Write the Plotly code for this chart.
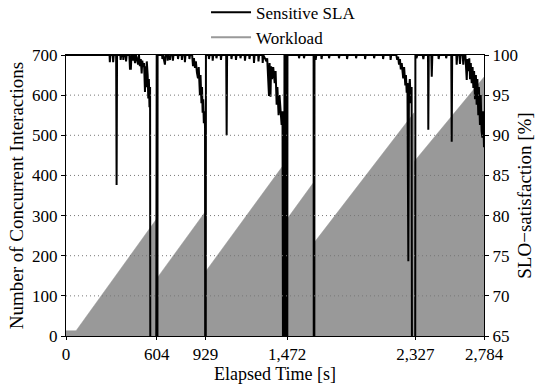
import plotly.graph_objects as go

# ---- data ----
x_ticks = [0, 604, 929, 1472, 2327, 2784]
x_tick_labels = ["0", "604", "929", "1,472", "2,327", "2,784"]
left_ticks = [0, 100, 200, 300, 400, 500, 600, 700]
right_ticks = [65, 70, 75, 80, 85, 90, 95, 100]

# workload (concurrent interactions) vertices
work_t = [0, 67, 600, 600, 929, 929, 1460, 1460, 1652, 1652, 2318, 2318, 2784]
work_v = [13, 13, 290, 141, 310, 160, 432, 285, 384, 232, 556, 434, 645]

# SLO satisfaction (%) of the sensitive SLA
sla_t = [0, 290, 292, 296, 312, 314, 318, 334, 337, 340, 362, 364, 368, 380, 382, 386,
         398, 400, 404, 422, 426, 432, 436, 440, 446, 452, 460, 466, 474, 480, 486, 492,
         498, 504, 508, 514, 520, 526, 530, 534, 538, 544, 548, 552, 556, 560, 564, 568,
         572, 576, 580, 584, 588, 592, 596, 599, 604, 607, 610, 640, 642, 646, 659, 663,
         675, 677, 681, 693, 697, 710, 712, 716, 744, 746, 750, 770, 772, 776, 790, 792,
         796, 820, 822, 826, 840, 846, 852, 859, 865, 872, 879, 884, 892, 896, 902, 906,
         910, 914, 918, 922, 926, 929, 932, 950, 952, 956, 975, 977, 981, 1000, 1002, 1006,
         1030, 1032, 1036, 1067, 1070, 1073, 1100, 1102, 1106, 1130, 1132, 1136, 1160, 1162,
         1166, 1190, 1192, 1196, 1220, 1222, 1226, 1250, 1252, 1256, 1280, 1282, 1286, 1308,
         1310, 1314, 1335, 1340, 1352, 1356, 1362, 1366, 1372, 1380, 1390, 1396, 1403, 1408,
         1416, 1422, 1430, 1436, 1442, 1449, 1452, 1455, 1466, 1469, 1472, 1475, 1550, 1552,
         1556, 1583, 1585, 1589, 1649, 1652, 1655, 1661, 1663, 1667, 1700, 1702, 1706, 1750,
         1752, 1756, 1816, 1818, 1822, 1870, 1872, 1876, 1930, 1932, 1936, 1990, 1992, 1996,
         2050, 2052, 2056, 2110, 2112, 2116, 2160, 2162, 2166, 2200, 2206, 2212, 2218, 2224,
         2230, 2236, 2246, 2252, 2260, 2264, 2269, 2274, 2280, 2284, 2290, 2296, 2302, 2308,
         2312, 2316, 2320, 2324, 2327, 2334, 2340, 2376, 2380, 2384, 2411, 2413, 2416, 2433,
         2436, 2440, 2480, 2482, 2486, 2530, 2532, 2536, 2566, 2569, 2572, 2600, 2602, 2606,
         2620, 2624, 2628, 2642, 2646, 2650, 2660, 2669, 2674, 2680, 2686, 2691, 2696, 2702,
         2708, 2713, 2718, 2724, 2730, 2735, 2740, 2746, 2750, 2757, 2762, 2768, 2773, 2778,
         2784]
sla_v = [100, 100, 99.1, 100, 100, 99.1, 100, 100, 83.8, 100, 100, 99.4, 100, 100, 99.4, 100,
         100, 99.2, 100, 100, 98.3, 98.3, 100, 100, 99.3, 100, 99.0, 100, 99.4, 98.8, 100, 98.6,
         99.5, 97.7, 99.3, 98.5, 99.0, 95.4, 98.6, 96.0, 99.2, 97.5, 94.6, 97.0, 93.5, 96.0, 0, 40,
         0, 30, 0, 50, 0, 20, 0, 100, 100, 0, 100, 100, 99.5, 100, 98.8, 100,
         100, 99.3, 100, 99.4, 100, 100, 99.3, 100, 100, 99.5, 100, 100, 99.4, 100, 100, 99.1,
         100, 100, 99.5, 100, 100, 98.6, 99.6, 98.4, 99.2, 97.8, 97.1, 98.5, 95.0, 97.5, 94.0, 96.0,
         92.8, 94.5, 91.5, 93.0, 91.0, 0, 100, 100, 99.5, 100, 100, 99.3, 100, 100, 99.6, 100,
         100, 99.4, 100, 100, 90.0, 100, 100, 99.5, 100, 100, 99.4, 100, 100, 99.6,
         100, 100, 99.3, 100, 100, 99.5, 100, 100, 99.0, 100, 100, 99.2, 100, 100,
         99.0, 100, 99.2, 99.6, 94.9, 99.0, 94.8, 98.6, 97.0, 98.5, 96.5, 98.0, 93.8, 96.0,
         92.5, 95.0, 91.8, 91.3, 93.0, 0, 0, 100, 100, 0, 0, 100, 100, 99.6,
         100, 100, 99.6, 100, 100, 0, 100, 100, 99.4, 100, 100, 99.5, 100, 100,
         99.6, 100, 100, 99.6, 100, 100, 99.5, 100, 100, 99.6, 100, 100, 99.5, 100,
         100, 99.6, 100, 100, 99.5, 100, 100, 99.4, 100, 100, 99.4, 99.8, 98.8, 99.5,
         98.2, 99.0, 97.1, 98.5, 96.2, 97.5, 95.3, 96.5, 74.3, 95.5, 97.0, 94.0, 96.0, 0,
         0, 60, 0, 0, 100, 99.6, 100, 100, 99.5, 100, 100, 90.7, 100, 100,
         97.3, 100, 100, 99.5, 100, 100, 99.6, 100, 100, 89.2, 100, 100, 98.8, 100,
         100, 98.9, 100, 100, 98.8, 100, 100, 96.9, 99.5, 98.0, 99.6, 97.0, 99.0, 96.5,
         98.5, 95.9, 98.0, 94.5, 97.5, 93.8, 97.0, 92.5, 96.0, 91.3, 95.0, 90.5, 89.7, 93.0,
         88.5]

FONT = "'Liberation Serif', 'Times New Roman', Times, serif"
GRAY = "#999999"

fig = go.Figure()
fig.add_trace(go.Scatter(x=work_t, y=work_v, mode="lines", fill="tozeroy",
                         fillcolor=GRAY, line=dict(color=GRAY, width=0.5),
                         showlegend=False, hoverinfo="skip"))
fig.add_trace(go.Scatter(x=sla_t, y=sla_v, mode="lines", yaxis="y2",
                         name="Sensitive SLA", line=dict(color="black", width=2),
                         legendrank=1))
fig.add_trace(go.Scatter(x=[None], y=[None], mode="lines", name="Workload",
                         line=dict(color=GRAY, width=2), legendrank=2))

shapes = []
for v in left_ticks[1:-1]:
    shapes.append(dict(type="line", xref="paper", x0=0, x1=1, yref="y", y0=v, y1=v,
                       layer="above", line=dict(color="#777777", width=1, dash="1px,3px")))

fig.update_layout(
    width=538, height=384,
    margin=dict(l=66, r=54, t=55, b=48, autoexpand=False),
    paper_bgcolor="white", plot_bgcolor="white",
    font=dict(family=FONT, size=17, color="black"),
    showlegend=True,
    legend=dict(x=0.335, y=1.215, xanchor="left", yanchor="top",
                bgcolor="rgba(0,0,0,0)", font=dict(family=FONT, size=17), itemwidth=40,
                tracegroupgap=0),
    shapes=shapes,
    xaxis=dict(range=[0, 2784], tickvals=x_ticks, ticktext=x_tick_labels,
               showgrid=False, zeroline=False, showline=True, linecolor="black",
               linewidth=1, mirror=True, ticks="outside", ticklen=3, tickcolor="black",
               title=dict(text="Elapsed Time [s]", standoff=0,
                          font=dict(family=FONT, size=18)),
               tickfont=dict(family=FONT, size=17)),
    yaxis=dict(range=[0, 700], tickvals=left_ticks, showgrid=False, zeroline=False,
               showline=True, linecolor="black", linewidth=1, ticks="outside",
               ticklen=4, tickcolor="black", tickfont=dict(family=FONT, size=17),
               title=dict(text="Number of Concurrent Interactions", standoff=3,
                          font=dict(family=FONT, size=19))),
    yaxis2=dict(range=[65, 100], tickvals=right_ticks, overlaying="y", side="right",
                showgrid=False, zeroline=False, showline=True, linecolor="black",
                linewidth=1, ticks="outside", ticklen=4, tickcolor="black",
                tickfont=dict(family=FONT, size=17),
                title=dict(text="SLO−satisfaction [%]", standoff=0,
                           font=dict(family=FONT, size=19))),
)

fig.write_html("out.html", config={"displayModeBar": False},
               post_script="document.body.style.margin='0';")
